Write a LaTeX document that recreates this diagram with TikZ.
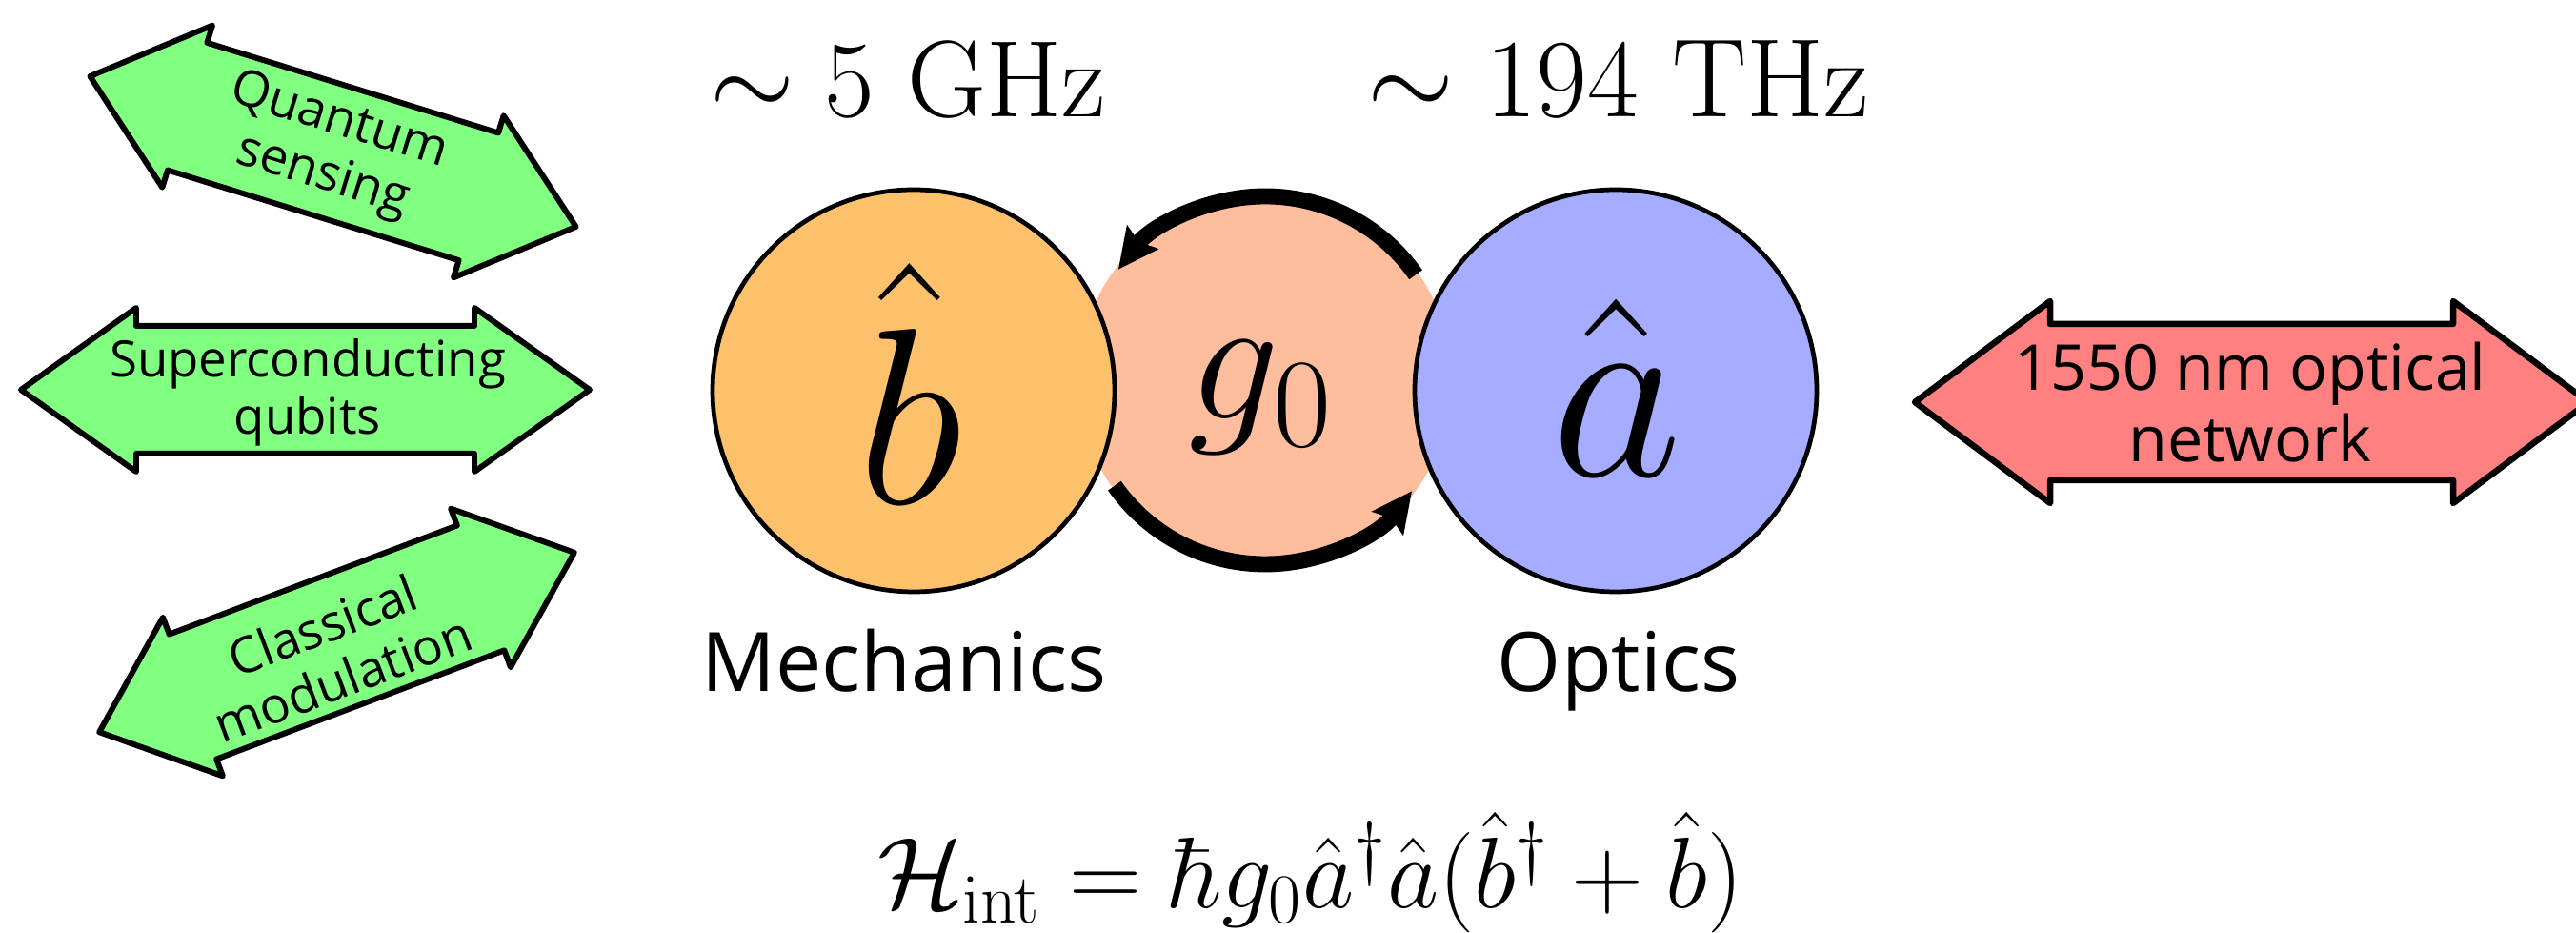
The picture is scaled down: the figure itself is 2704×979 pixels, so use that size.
\documentclass[tikz,border=0pt]{standalone}
\usepackage{fix-cm}
\usepackage[no-math]{fontspec}
\newfontfamily\osans{Open Sans}
\usetikzlibrary{arrows.meta}
\definecolor{arrgreen}{RGB}{128,255,128}
\definecolor{arrred}{RGB}{255,128,128}
\definecolor{mechorange}{RGB}{254,193,107}
\definecolor{cpeach}{RGB}{254,190,158}
\definecolor{optblue}{RGB}{166,172,255}
% double arrow outline: half length, head length, head half width, shaft half width
\newcommand\dblarrowpath[4]{(-#1,0) -- (-#1+#2,#3) -- (-#1+#2,#4) -- (#1-#2,#4) -- (#1-#2,#3) -- (#1,0) -- (#1-#2,-#3) -- (#1-#2,-#4) -- (-#1+#2,-#4) -- (-#1+#2,-#3) -- cycle}
\tikzset{
  arrowbody/.style={draw=black, line width=1.7pt, line join=round},
  greentext/.style={font=\osans\fontsize{15}{17}\selectfont, align=center, inner sep=0pt},
  redtext/.style={font=\osans\fontsize{18.9}{21.2}\selectfont, align=center, inner sep=0pt},
  modelabel/.style={font=\osans\fontsize{24.5}{28}\selectfont, anchor=base, inner sep=0pt},
  freqlabel/.style={font=\fontsize{32.5}{36}\selectfont, anchor=base, inner sep=0pt},
  modecircle/.style={circle, draw=black, line width=1.35pt, minimum size=42.2mm, inner sep=0pt, outer sep=0pt},
  bigsym/.style={anchor=base, inner sep=0pt},
  couplarrow/.style={line width=4.8pt, -{Stealth[length=4.2mm, width=4mm, inset=0.6mm]}},
}
\begin{document}
\begin{tikzpicture}[x=0.1mm, y=0.1mm]
\useasboundingbox (0,0) rectangle (2704,-979);

% green double arrows
\draw[arrowbody, fill=arrgreen, shift={(349.5,-159)}, rotate=-17.2] \dblarrowpath{267}{107}{89}{70};
\node[greentext, rotate=-17.2] (qsense) at (347,-157) {Quantum\\sensing};

\draw[arrowbody, fill=arrgreen, shift={(320.5,-409)}] \dblarrowpath{298.5}{121}{86}{67};
\node[greentext] (squbit) at (323,-412) {Superconducting\\qubits};

\draw[arrowbody, fill=arrgreen, shift={(353.5,-674)}, rotate=20.7] \dblarrowpath{266.5}{105}{89}{70};
\node[greentext, rotate=20.7] (cmod) at (349,-684) {Classical\\modulation};

% red double arrow
\draw[arrowbody, line width=1.85pt, fill=arrred, shift={(2363.5,-422)}] \dblarrowpath{353.5}{142}{106}{82};
\node[redtext] (onet) at (2362,-422) {1550 nm optical\\network};

% coupling circle and arrows
\node[circle, fill=cpeach, minimum size=39.2mm, inner sep=0pt, outer sep=0pt] (coup) at (1328,-399) {};
\draw[couplarrow] ([shift={(35:19.3mm)}]coup.center) arc[start angle=35, end angle=143, radius=19.3mm];
\draw[couplarrow] ([shift={(215:19.3mm)}]coup.center) arc[start angle=215, end angle=323, radius=19.3mm];

% mode circles
\node[modecircle, fill=mechorange] (mech) at (959,-410) {};
\node[modecircle, fill=optblue] (opt) at (1696,-410) {};

% symbols
\node[bigsym, font=\fontsize{75}{80}\selectfont] (bsym) at (955,-529) {$\hat{b}$};
\node[bigsym, font=\fontsize{76}{82}\selectfont] (asym) at (1697,-500) {$\hat{a}$};
\node[bigsym, font=\fontsize{54}{60}\selectfont] (gsym) at (1323,-440) {$g_0$};

% labels
\node[freqlabel] (fmech) at (953,-123) {$\sim 5$ GHz};
\node[freqlabel, font=\fontsize{33.3}{36}\selectfont] (fopt) at (1699,-123) {$\sim 194$ THz};
\node[modelabel] (lmech) at (949,-726) {Mechanics};
\node[modelabel] (lopt) at (1699,-726) {Optics};

% Hamiltonian
\node[anchor=base, inner sep=0pt, font=\fontsize{30}{34}\selectfont] (ham) at (1376,-953)
  {$\mathcal{H}_{\mathrm{int}} = \hbar g_0 \hat{a}^\dagger \hat{a}(\hat{b}^\dagger + \hat{b})$};
\end{tikzpicture}
\end{document}
